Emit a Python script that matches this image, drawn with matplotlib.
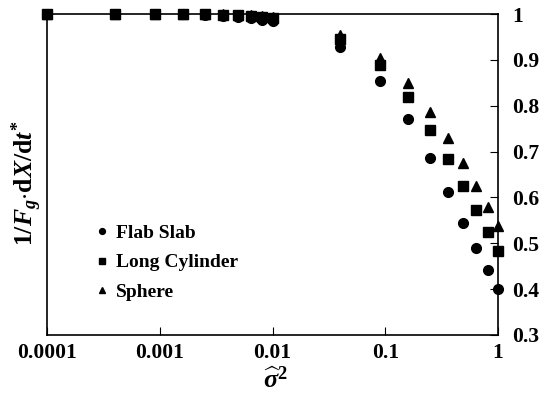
import matplotlib
matplotlib.use("Agg")
import matplotlib.pyplot as plt

plt.rcParams["font.family"] = "Liberation Serif"
plt.rcParams["font.weight"] = "bold"
plt.rcParams["mathtext.fontset"] = "custom"
plt.rcParams["mathtext.rm"] = "Liberation Serif:bold"
plt.rcParams["mathtext.it"] = "Liberation Serif:bold:italic"
plt.rcParams["mathtext.bf"] = "Liberation Serif:bold"

# sigma^2 values: (0.01 k)^2 for k=1..10, then (0.1 k)^2 for k=2..10
sigma2 = [0.0001, 0.0004, 0.0009, 0.0016, 0.0025, 0.0036, 0.0049, 0.0064, 0.0081, 0.01,
          0.04, 0.09, 0.16, 0.25, 0.36, 0.49, 0.64, 0.81, 1.0]

flat_slab = [1.0, 1.0, 1.0, 0.999, 0.998, 0.996, 0.994, 0.991, 0.988, 0.985,
             0.928, 0.854, 0.771, 0.687, 0.612, 0.545, 0.490, 0.441, 0.401]
long_cylinder = [1.0, 1.0, 1.0, 0.9995, 0.999, 0.998, 0.997, 0.995, 0.993, 0.991,
                 0.946, 0.889, 0.819, 0.747, 0.684, 0.624, 0.573, 0.524, 0.484]
sphere = [1.0, 1.0, 1.0, 1.0, 0.9995, 0.999, 0.998, 0.997, 0.996, 0.994,
          0.955, 0.904, 0.850, 0.786, 0.730, 0.675, 0.624, 0.580, 0.537]

x_ticks = [0.0001, 0.001, 0.01, 0.1, 1]
x_labels = ["0.0001", "0.001", "0.01", "0.1", "1"]
y_ticks = [0.3, 0.4, 0.5, 0.6, 0.7, 0.8, 0.9, 1.0]
y_labels = ["0.3", "0.4", "0.5", "0.6", "0.7", "0.8", "0.9", "1"]

fig = plt.figure(figsize=(5.43, 4.0), dpi=100)
ax = fig.add_axes([0.0866, 0.1625, 0.8306, 0.8025])

ax.plot(sigma2, flat_slab, "o", color="black", markersize=7, label="Flab Slab", clip_on=False, zorder=3)
ax.plot(sigma2, long_cylinder, "s", color="black", markersize=6.5, label="Long Cylinder", clip_on=False, zorder=3)
ax.plot(sigma2, sphere, "^", color="black", markersize=7, label="Sphere", clip_on=False, zorder=3)

ax.set_xscale("log")
ax.set_xlim(0.0001, 1)
ax.set_ylim(0.3, 1.0)
ax.set_xticks(x_ticks)
ax.set_xticklabels(x_labels)
ax.minorticks_off()
ax.set_yticks(y_ticks)
ax.set_yticklabels(y_labels)

ax.yaxis.tick_right()
ax.tick_params(axis="y", direction="in", length=6, width=0.8, pad=10, labelsize=15.5)
ax.tick_params(axis="x", direction="in", length=6, width=0.8, pad=6, labelsize=15.5)

for s in ax.spines.values():
    s.set_linewidth(1.2)

ax.yaxis.set_label_position("left")
ax.set_ylabel(r"$\mathrm{1/}F_g\mathrm{\cdot d}X\mathrm{/d}t^{*}$", fontsize=18.5)
ax.yaxis.set_label_coords(-0.006, 0.473)
ax.set_xlabel(r"$\widehat{\sigma}^2$", fontsize=19)
ax.xaxis.set_label_coords(0.506, -0.1)

leg = ax.legend(loc="upper left", bbox_to_anchor=(0.071, 0.40), frameon=False,
                markerscale=0.6, handlelength=0.6, handletextpad=0.4,
                labelspacing=0.62, prop={"family": "Liberation Serif", "weight": "bold", "size": 14})

fig.savefig("out.png", dpi=100)
